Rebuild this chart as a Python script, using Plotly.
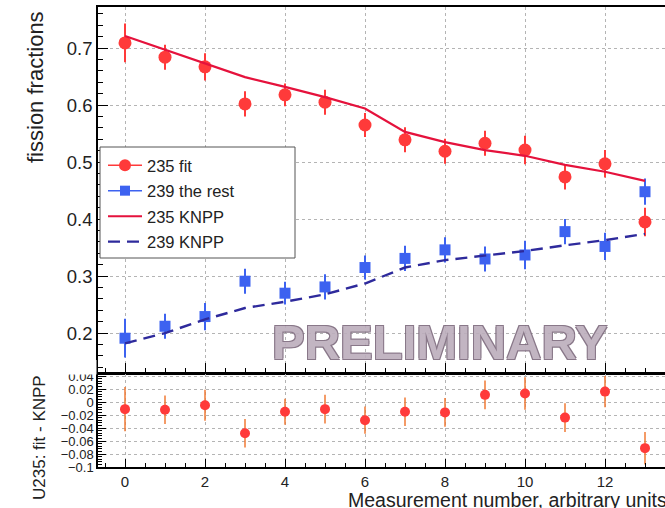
import plotly.graph_objects as go

# Measurement index
meas = [0, 1, 2, 3, 4, 5, 6, 7, 8, 9, 10, 11, 12, 13]

# U235 fission fraction from the fit, with uncertainties
u235_fit = [0.709, 0.684, 0.667, 0.602, 0.618, 0.605, 0.565, 0.539, 0.519, 0.533, 0.521, 0.474, 0.497, 0.395]
u235_err = [0.034, 0.022, 0.024, 0.022, 0.020, 0.022, 0.021, 0.022, 0.022, 0.022, 0.025, 0.022, 0.024, 0.025]

# Pu239 + remaining isotopes from the fit
pu239_rest = [0.191, 0.212, 0.229, 0.291, 0.270, 0.281, 0.315, 0.331, 0.346, 0.330, 0.337, 0.378, 0.352, 0.448]
pu239_err = [0.034, 0.022, 0.024, 0.022, 0.020, 0.022, 0.021, 0.022, 0.022, 0.022, 0.025, 0.022, 0.024, 0.023]

# Reactor (KNPP) predictions
u235_knpp = [0.721, 0.697, 0.673, 0.649, 0.632, 0.614, 0.594, 0.553, 0.535, 0.521, 0.511, 0.495, 0.483, 0.467]
pu239_knpp = [0.182, 0.200, 0.224, 0.244, 0.255, 0.268, 0.287, 0.315, 0.328, 0.336, 0.344, 0.354, 0.363, 0.374]

# Residuals U235: fit - KNPP
resid = [-0.011, -0.012, -0.005, -0.048, -0.015, -0.011, -0.028, -0.015, -0.016, 0.011, 0.013, -0.024, 0.016, -0.071]
resid_err = u235_err

FONT = "Liberation Sans, Arial, Helvetica, sans-serif"
RED = "#ff3a3a"
RED_LINE = "#e5123c"
BLUE = "#3d62f0"
NAVY = "#2e2a9c"
ORANGE = "#f07a35"
GRID = "#b4b4b4"

W, H = 665, 508
ML, MR, MT, MB = 98, 0, 7, 41
PW, PH = W - ML - MR, H - MT - MB


def px_x(p):
    return (p - ML) / PW


def px_y(p):
    return (H - MB - p) / PH


fig = go.Figure()

# upper panel: data points
fig.add_trace(go.Scatter(
    x=meas, y=u235_fit, mode="markers", showlegend=False,
    marker=dict(symbol="circle", size=13, color=RED),
    error_y=dict(type="data", array=u235_err, color=RED, thickness=2, width=0),
    xaxis="x", yaxis="y"))
fig.add_trace(go.Scatter(
    x=meas, y=pu239_rest, mode="markers", showlegend=False,
    marker=dict(symbol="square", size=11, color=BLUE),
    error_y=dict(type="data", array=pu239_err, color=BLUE, thickness=2, width=0),
    xaxis="x", yaxis="y"))
fig.add_trace(go.Scatter(
    x=meas, y=u235_knpp, mode="lines", showlegend=False,
    line=dict(color=RED_LINE, width=2.2),
    xaxis="x", yaxis="y"))
fig.add_trace(go.Scatter(
    x=meas, y=pu239_knpp, mode="lines", showlegend=False,
    line=dict(color=NAVY, width=2.4, dash="12px,7px"),
    xaxis="x", yaxis="y"))

# lower panel: residuals
fig.add_trace(go.Scatter(
    x=meas, y=resid, mode="markers", showlegend=False,
    marker=dict(symbol="circle", size=10, color=RED),
    error_y=dict(type="data", array=resid_err, color=ORANGE, thickness=1.5, width=0),
    xaxis="x2", yaxis="y2"))

# legend entries
legend_items = [
    ("235 fit", dict(mode="lines+markers", line=dict(color=RED, width=1.5),
                     marker=dict(symbol="circle", size=12, color=RED))),
    ("239 the rest", dict(mode="lines+markers", line=dict(color=BLUE, width=1.5),
                          marker=dict(symbol="square", size=10, color=BLUE))),
    ("235 KNPP", dict(mode="lines", line=dict(color=RED_LINE, width=2))),
    ("239 KNPP", dict(mode="lines", line=dict(color=NAVY, width=2.4, dash="12px,7px"))),
]
for i, (name, style) in enumerate(legend_items):
    fig.add_trace(go.Scatter(x=[None], y=[None], name=name, legendgroup=f"g{i}",
                             xaxis="x", yaxis="y", **style))

axis_common = dict(
    showline=True, linecolor="black", linewidth=1.5,
    ticks="inside", tickcolor="black", tickwidth=1,
    showgrid=True, gridcolor=GRID, griddash="dot", gridwidth=1,
    zeroline=False,
)

fig.update_layout(
    width=W, height=H,
    margin=dict(l=ML, r=MR, t=MT, b=MB),
    paper_bgcolor="white", plot_bgcolor="white",
    font=dict(family=FONT, color="#222"),
    xaxis=dict(
        **axis_common, domain=[0, 1], anchor="y", matches="x2",
        range=[-0.675, 13.5], tick0=0, dtick=2, ticklen=10, mirror=True,
        showticklabels=False,
        minor=dict(dtick=0.5, ticklen=5, ticks="inside", tickcolor="black", showgrid=False),
    ),
    yaxis=dict(
        **axis_common, domain=[px_y(373), 1], anchor="x",
        range=[0.13, 0.772], tick0=0, dtick=0.1, ticklen=10,
        tickfont=dict(size=18.5, family=FONT, color="#222"),
        minor=dict(dtick=0.02, ticklen=5, ticks="inside", tickcolor="black", showgrid=False),
    ),
    xaxis2=dict(
        **axis_common, domain=[0, 1], anchor="y2",
        range=[-0.675, 13.5], tick0=0, dtick=2, ticklen=8, mirror=True,
        tickfont=dict(size=15, family=FONT, color="#222"),
        minor=dict(dtick=0.5, ticklen=4, ticks="inside", tickcolor="black", showgrid=False),
    ),
    yaxis2=dict(
        **axis_common, domain=[0, px_y(374)], anchor="x2",
        range=[-0.1, 0.0431], tick0=0, dtick=0.02, ticklen=8,
        tickfont=dict(size=13, family=FONT, color="#222"),
        minor=dict(dtick=0.004, ticklen=4, ticks="inside", tickcolor="black", showgrid=False),
    ),
    legend=dict(
        x=px_x(103), y=px_y(148), xanchor="left", yanchor="top",
        bgcolor="rgba(0,0,0,0)", borderwidth=0,
        font=dict(size=16.5, family=FONT, color="#222"),
        itemwidth=34, tracegroupgap=1, traceorder="grouped",
    ),
)

# legend frame
fig.add_shape(type="rect", xref="paper", yref="paper",
              x0=px_x(100), x1=px_x(295), y0=px_y(258), y1=px_y(147),
              fillcolor="white", line=dict(color="#555", width=1), layer="above")

# hide the upper half of the clipped top tick label of the residual panel
fig.add_shape(type="rect", xref="paper", yref="paper",
              x0=px_x(50), x1=px_x(96.5), y0=px_y(374.5), y1=px_y(360),
              fillcolor="white", line=dict(width=0), layer="above")

fig.add_annotation(
    text="fission fractions", xref="paper", yref="paper",
    x=px_x(35), y=px_y(87), xanchor="center", yanchor="middle",
    textangle=-90, showarrow=False,
    font=dict(size=22, family=FONT, color="#222"))
fig.add_annotation(
    text="U235: fit - KNPP", xref="paper", yref="paper",
    x=px_x(39), y=px_y(438), xanchor="center", yanchor="middle",
    textangle=-90, showarrow=False,
    font=dict(size=17, family=FONT, color="#222"))
fig.add_annotation(
    text="Measurement number, arbitrary units", xref="paper", yref="paper",
    x=px_x(346), y=px_y(499.5), xanchor="left", yanchor="middle",
    showarrow=False,
    font=dict(size=19.5, family=FONT, color="#222"))

outline = "#7d6a7d"
fig.add_annotation(
    text="PRELIMINARY", xref="paper", yref="paper",
    x=px_x(440), y=px_y(341.5), xanchor="center", yanchor="middle",
    showarrow=False, opacity=0.9,
    font=dict(size=49, family=FONT, color="#bcaebc", weight="bold",
              shadow=f"-1px -1px 0 {outline}, 1px -1px 0 {outline}, -1px 1px 0 {outline}, 1px 1px 0 {outline}"))

fig.write_html("out.html")
